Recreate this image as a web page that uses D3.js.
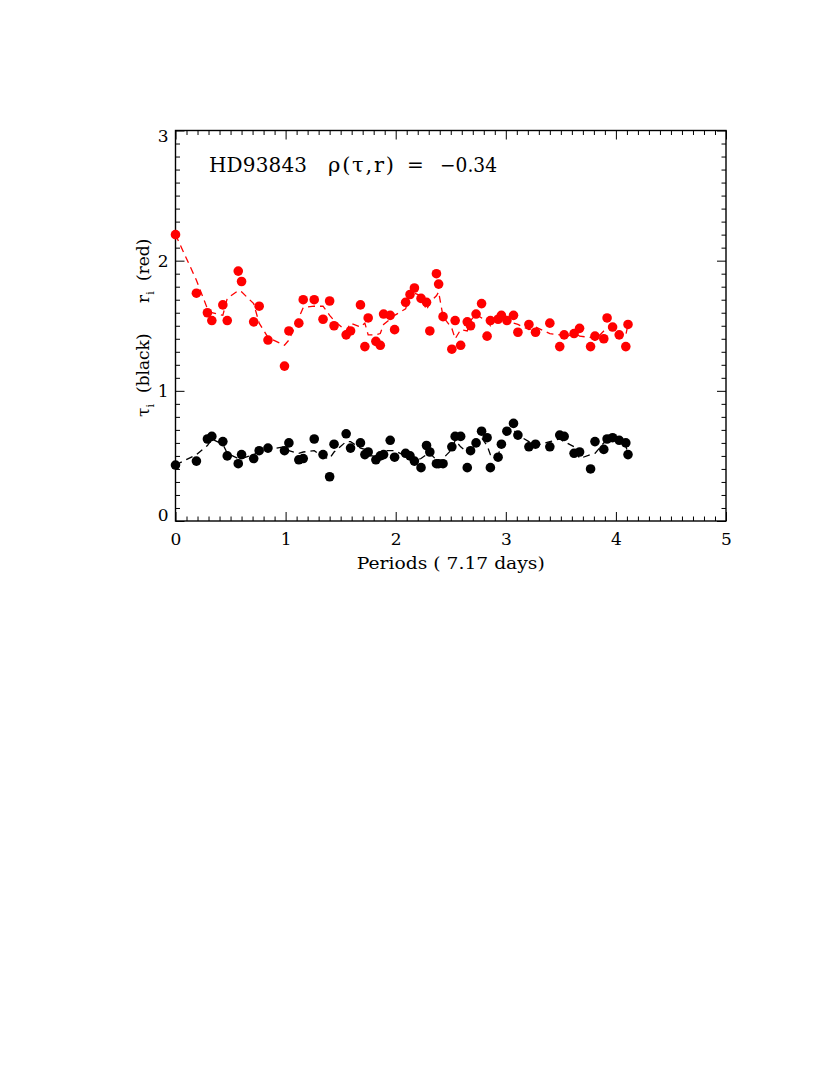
<!DOCTYPE html>
<html>
<head>
<meta charset="utf-8">
<script src="https://cdn.jsdelivr.net/npm/d3@7"></script>
<style>
  body { margin: 0; background: #fff; }
  svg { display: block; }
  .lbl { font-family: "DejaVu Serif", "Liberation Serif", serif; fill: #000; }
</style>
</head>
<body>
<svg id="chart" width="830" height="1075"></svg>
<script>
'use strict'

//---------------------------datos--------------------------------//
// fase en periodos (P = 7.17 dias)
var fase = [0.00, 0.19, 0.29, 0.33, 0.43, 0.47, 0.57, 0.60, 0.71, 0.76,
  0.84, 0.99, 1.03, 1.12, 1.16, 1.26, 1.34, 1.40, 1.44, 1.55,
  1.59, 1.68, 1.72, 1.75, 1.82, 1.86, 1.89, 1.95, 1.99, 2.09,
  2.13, 2.17, 2.23, 2.28, 2.31, 2.37, 2.39, 2.43, 2.51, 2.54,
  2.59, 2.65, 2.68, 2.73, 2.78, 2.83, 2.86, 2.93, 2.96, 3.01,
  3.07, 3.11, 3.21, 3.27, 3.40, 3.49, 3.53, 3.62, 3.67, 3.77,
  3.81, 3.89, 3.92, 3.97, 4.03, 4.09, 4.11];

// r_i (rojo)
var rVal = [2.20, 1.75, 1.60, 1.54, 1.66, 1.54, 1.92, 1.84, 1.53, 1.65,
  1.39, 1.19, 1.46, 1.52, 1.70, 1.70, 1.55, 1.69, 1.50, 1.43,
  1.46, 1.66, 1.34, 1.56, 1.38, 1.35, 1.59, 1.58, 1.47, 1.68,
  1.74, 1.79, 1.71, 1.68, 1.46, 1.90, 1.82, 1.57, 1.32, 1.54,
  1.35, 1.53, 1.50, 1.59, 1.67, 1.42, 1.54, 1.55, 1.58, 1.54,
  1.58, 1.45, 1.51, 1.45, 1.52, 1.34, 1.43, 1.44, 1.48, 1.34,
  1.42, 1.40, 1.56, 1.49, 1.43, 1.34, 1.51];

// curva suavizada roja
var rSuave = [2.20, 1.85, 1.63, 1.60, 1.58, 1.71, 1.77, 1.76, 1.67, 1.52,
  1.41, 1.35, 1.39, 1.56, 1.64, 1.65, 1.65, 1.58, 1.54, 1.46,
  1.52, 1.49, 1.52, 1.43, 1.43, 1.44, 1.51, 1.55, 1.58, 1.63,
  1.74, 1.75, 1.73, 1.62, 1.68, 1.73, 1.76, 1.57, 1.48, 1.40,
  1.47, 1.46, 1.54, 1.59, 1.56, 1.54, 1.50, 1.56, 1.56, 1.57,
  1.52, 1.51, 1.47, 1.49, 1.44, 1.43, 1.40, 1.45, 1.42, 1.41,
  1.39, 1.46, 1.48, 1.49, 1.42, 1.43, 1.51];

// tau_i (negro)
var tauVal = [0.43, 0.46, 0.63, 0.65, 0.61, 0.50, 0.44, 0.51, 0.48, 0.54,
  0.56, 0.54, 0.60, 0.47, 0.48, 0.63, 0.51, 0.34, 0.59, 0.67,
  0.56, 0.60, 0.51, 0.53, 0.47, 0.50, 0.51, 0.62, 0.49, 0.52,
  0.50, 0.46, 0.41, 0.58, 0.53, 0.44, 0.44, 0.44, 0.57, 0.65,
  0.65, 0.41, 0.54, 0.60, 0.69, 0.64, 0.41, 0.49, 0.59, 0.69,
  0.75, 0.66, 0.57, 0.59, 0.57, 0.66, 0.65, 0.52, 0.53, 0.40,
  0.61, 0.55, 0.63, 0.64, 0.62, 0.60, 0.51];

// curva suavizada negra
var tauSuave = [0.43, 0.51, 0.58, 0.63, 0.59, 0.52, 0.48, 0.48, 0.51, 0.53,
  0.55, 0.57, 0.54, 0.52, 0.53, 0.54, 0.49, 0.48, 0.53, 0.61,
  0.61, 0.56, 0.55, 0.50, 0.50, 0.49, 0.54, 0.54, 0.54, 0.50,
  0.49, 0.46, 0.48, 0.51, 0.52, 0.47, 0.44, 0.48, 0.55, 0.62,
  0.57, 0.53, 0.52, 0.61, 0.64, 0.58, 0.51, 0.50, 0.59, 0.68,
  0.70, 0.66, 0.61, 0.58, 0.61, 0.63, 0.61, 0.57, 0.48, 0.51,
  0.52, 0.60, 0.61, 0.63, 0.62, 0.58, 0.51];

var xTicks = [0, 1, 2, 3, 4, 5];
var yTicks = [0, 1, 2, 3];

//---------------------------escalas--------------------------------//
var svg = d3.select('#chart');
svg.append('rect').attr('width', 830).attr('height', 1075).attr('fill', '#fff');

var margen = { izq: 175.5, der: 726, arr: 130.5, aba: 521 };

var x = d3.scaleLinear().domain([0, 5]).range([margen.izq, margen.der]),
  y = d3.scaleLinear().domain([0, 3]).range([margen.aba, margen.arr]);

var xMenor = d3.range(0, 50).map(function (i) { return i / 10; }).filter(function (v) { return v % 1 !== 0; });
var yMenor = d3.range(0, 30).map(function (i) { return i / 10; }).filter(function (v) { return v % 1 !== 0; });

function ejes(g) {
  g.selectAll('.domain').remove();
  g.selectAll('line').attr('stroke', '#000').attr('stroke-width', 1);
}

// ticks menores en los cuatro lados
svg.append('g').attr('transform', 'translate(0,' + margen.aba + ')')
  .call(d3.axisBottom(x).tickValues(xMenor).tickSize(-4.5).tickFormat('')).call(ejes);
svg.append('g').attr('transform', 'translate(0,' + margen.arr + ')')
  .call(d3.axisTop(x).tickValues(xMenor).tickSize(-4.5).tickFormat('')).call(ejes);
svg.append('g').attr('transform', 'translate(' + margen.izq + ',0)')
  .call(d3.axisLeft(y).tickValues(yMenor).tickSize(-4.5).tickFormat('')).call(ejes);
svg.append('g').attr('transform', 'translate(' + margen.der + ',0)')
  .call(d3.axisRight(y).tickValues(yMenor).tickSize(-4.5).tickFormat('')).call(ejes);

// ticks mayores
svg.append('g').attr('transform', 'translate(0,' + margen.aba + ')')
  .call(d3.axisBottom(x).tickValues(xTicks).tickSize(-9).tickPadding(12).tickFormat(d3.format('d')))
  .call(ejes)
  .selectAll('text')
  .attr('class', 'lbl')
  .style('font-size', '17px')
  .attr('dy', '0.71em');
svg.append('g').attr('transform', 'translate(0,' + margen.arr + ')')
  .call(d3.axisTop(x).tickValues(xTicks).tickSize(-9).tickFormat('')).call(ejes);
var gy = svg.append('g').attr('transform', 'translate(' + margen.izq + ',0)')
  .call(d3.axisLeft(y).tickValues(yTicks).tickSize(-9).tickPadding(7).tickFormat(d3.format('d')))
  .call(ejes);
gy.selectAll('text')
  .attr('class', 'lbl')
  .style('font-size', '17px')
  .attr('dy', function (d) {
    // IDL mantiene las etiquetas dentro del rango del eje
    if (d === 0) return '-0.05em';
    if (d === 3) return '0.62em';
    return '0.32em';
  });
svg.append('g').attr('transform', 'translate(' + margen.der + ',0)')
  .call(d3.axisRight(y).tickValues(yTicks).tickSize(-9).tickFormat('')).call(ejes);

// marco
svg.append('rect')
  .attr('x', margen.izq).attr('y', margen.arr)
  .attr('width', margen.der - margen.izq).attr('height', margen.aba - margen.arr)
  .attr('fill', 'none').attr('stroke', '#000').attr('stroke-width', 1.4);

//---------------------------series--------------------------------//
var linea = d3.line()
  .x(function (d) { return x(d[0]); })
  .y(function (d) { return y(d[1]); });

var series = [
  { val: rVal, suave: rSuave, color: '#ff0000' },
  { val: tauVal, suave: tauSuave, color: '#000000' }
];

series.forEach(function (s) {
  svg.append('path')
    .datum(fase.map(function (f, i) { return [f, s.suave[i]]; }))
    .attr('fill', 'none')
    .attr('stroke', s.color)
    .attr('stroke-width', 1.3)
    .attr('stroke-dasharray', '7,5')
    .attr('d', linea);

  svg.append('g').selectAll('circle')
    .data(fase.map(function (f, i) { return [f, s.val[i]]; }))
    .enter().append('circle')
    .attr('cx', function (d) { return x(d[0]); })
    .attr('cy', function (d) { return y(d[1]); })
    .attr('r', 4.8)
    .attr('fill', s.color);
});

//---------------------------textos--------------------------------//
// titulo en piezas, cada una con su ancho medido en la figura
var piezas = [
  { t: 'HD93843', x: 209, w: 98, s: 20, adj: 'spacing' },
  { t: '\u03C1(\u03C4,r)', x: 328, w: 66, s: 21, adj: 'spacing' },
  { t: '=', x: 407, w: null, s: 20, adj: null },
  { t: '\u22120.34', x: 440, w: 57, s: 20, adj: 'spacingAndGlyphs' }
];
piezas.forEach(function (p) {
  var t = svg.append('text').attr('class', 'lbl')
    .style('font-size', p.s + 'px')
    .attr('x', p.x).attr('y', 172)
    .text(p.t);
  if (p.w) t.attr('textLength', p.w).attr('lengthAdjust', p.adj);
});

svg.append('text').attr('class', 'lbl')
  .style('font-size', '16px')
  .attr('x', (margen.izq + margen.der) / 2).attr('y', 569)
  .attr('text-anchor', 'middle')
  .attr('textLength', 188)
  .attr('lengthAdjust', 'spacingAndGlyphs')
  .attr('xml:space', 'preserve')
  .text('Periods ( 7.17 days)');

// etiqueta vertical en dos piezas
var ylab1 = svg.append('text').attr('class', 'lbl')
  .style('font-size', '17px')
  .attr('transform', 'translate(149,417) rotate(-90)')
  .attr('xml:space', 'preserve');
ylab1.append('tspan').text('\u03C4');
ylab1.append('tspan').attr('dy', 5).style('font-size', '11px').text('i');
ylab1.append('tspan').attr('dy', -5).attr('x', 24).text('(black)');

var ylab2 = svg.append('text').attr('class', 'lbl')
  .style('font-size', '17px')
  .attr('transform', 'translate(149,303) rotate(-90)')
  .attr('xml:space', 'preserve');
ylab2.append('tspan').text('r');
ylab2.append('tspan').attr('dy', 5).style('font-size', '11px').text('i');
ylab2.append('tspan').attr('dy', -5).attr('x', 22).text('(red)');
</script>
</body>
</html>
